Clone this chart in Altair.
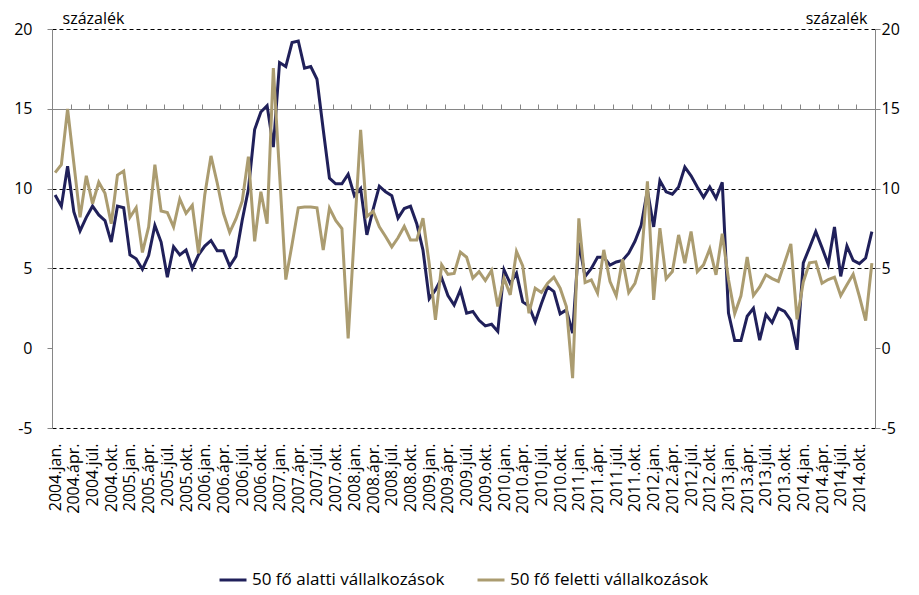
import json
import altair as alt
import pandas as pd

# ---- data ----
years = list(range(2004, 2015))
quarter_months = ["jan.", "ápr.", "júl.", "okt."]
series_names = ["50 fő alatti vállalkozások", "50 fő feletti vállalkozások"]
colors = ["#20205A", "#AB9C70"]
y_ticks = [-5, 0, 5, 10, 15, 20]

small = [
    9.6, 8.9, 11.4, 8.55, 7.35, 8.2, 8.9, 8.35, 8.0, 6.65, 8.9, 8.8,
    5.85, 5.6, 4.95, 5.8, 7.7, 6.65, 4.45, 6.35, 5.85, 6.15, 5.0, 5.85,
    6.4, 6.75, 6.1, 6.1, 5.15, 5.75, 8.0, 9.95, 13.7, 14.8, 15.2, 12.6,
    17.9, 17.65, 19.15, 19.25, 17.55, 17.65, 16.85, 13.7, 10.65, 10.3, 10.3, 10.9,
    9.55, 10.0, 7.1, 8.7, 10.15, 9.8, 9.55, 8.15, 8.75, 8.9, 7.8, 6.15,
    3.1, 3.65, 4.4, 3.3, 2.7, 3.65, 2.2, 2.3, 1.75, 1.4, 1.5, 1.05,
    4.9, 4.05, 4.7, 2.9, 2.65, 1.65, 2.8, 3.85, 3.55, 2.15, 2.4, 0.95,
    6.6, 4.5, 5.0, 5.7, 5.7, 5.2, 5.4, 5.5, 5.95, 6.7, 7.7, 9.9,
    7.6, 10.5, 9.8, 9.65, 10.1, 11.35, 10.8, 10.1, 9.45, 10.1, 9.4, 10.4,
    2.2, 0.48, 0.48, 2.0, 2.5, 0.5, 2.1, 1.6, 2.5, 2.3, 1.75, -0.1,
    5.35, 6.3, 7.3, 6.3, 5.25, 7.6, 4.5, 6.4, 5.5, 5.3, 5.65, 7.3,
]
large = [
    11.0, 11.5, 15.0, 11.6, 8.2, 10.8, 9.05, 10.4, 9.7, 7.8, 10.85, 11.1,
    8.2, 8.8, 6.0, 7.6, 11.5, 8.6, 8.5, 7.6, 9.35, 8.45, 8.95, 5.95,
    9.6, 12.05, 10.35, 8.45, 7.25, 8.1, 9.2, 12.0, 6.7, 9.8, 7.8, 17.55,
    10.9, 4.3, 6.5, 8.8, 8.85, 8.85, 8.8, 6.15, 8.78, 8.0, 7.5, 0.62,
    7.2, 13.68, 8.25, 8.58, 7.6, 7.0, 6.35, 6.92, 7.63, 6.78, 6.78, 8.14,
    5.3, 1.78, 5.22, 4.63, 4.68, 6.02, 5.7, 4.39, 4.8, 4.24, 4.87, 2.61,
    4.39, 3.34, 6.06, 5.16, 2.19, 3.76, 3.49, 4.07, 4.45, 3.76, 2.61, -1.88,
    8.14, 4.11, 4.28, 3.45, 6.16, 4.18, 3.28, 5.58, 3.49, 4.07, 5.43, 10.45,
    3.03, 7.52, 4.35, 4.8, 7.1, 5.33, 7.31, 4.8, 5.22, 6.23, 4.6, 7.17,
    4.3, 2.17, 3.28, 5.71, 3.3, 3.84, 4.6, 4.36, 4.18, 5.35, 6.53, 1.8,
    4.15, 5.35, 5.41, 4.07, 4.3, 4.45, 3.29, 3.97, 4.63, 3.24, 1.73, 5.33,
]

quarter_labels = [f"{y}.{m}" for y in years for m in quarter_months]
n = len(small)

df = pd.DataFrame({
    "idx": [i + 0.5 for i in range(n)] * 2,
    "value": small + large,
    "series": [series_names[0]] * n + [series_names[1]] * n,
})

FONT = "Open Sans"
FS = 16
W, H = 823, 399
y_per_unit = H / 25.0
zero_offset = -round(5 * y_per_unit)

x_scale = alt.Scale(domain=[0, n], nice=False, zero=False)
y_scale = alt.Scale(domain=[-5, 20], nice=False, zero=False)
color = alt.Color(
    "series:N",
    scale=alt.Scale(domain=series_names, range=colors),
    legend=alt.Legend(
        title=None, orient="none", direction="horizontal",
        legendX=166, legendY=536, symbolType="stroke", symbolSize=729,
        symbolStrokeWidth=3, labelFontSize=17, labelFont=FONT,
        labelColor="#000000", columnPadding=26, labelOffset=4, padding=0,
        labelLimit=400,
    ),
)

label_expr = "%s[floor(datum.value / 3)]" % json.dumps(quarter_labels, ensure_ascii=False)

x_label_axis = alt.Axis(
    values=[3 * k + 0.5 for k in range(len(quarter_labels))],
    labelExpr=label_expr, labelAngle=270, labelAlign="right",
    labelBaseline="middle", ticks=False, domain=False, grid=False,
    labelPadding=15, labelFontSize=FS, labelFont=FONT, labelColor="#000000",
    labelOverlap=False, labelBound=False, labelFlush=False, title=None,
)
x_tick_axis = alt.Axis(
    values=[3 * k for k in range(n // 3 + 1)], labels=False, ticks=True,
    tickSize=5, tickColor="#868686", domain=True, domainColor="#868686",
    offset=zero_offset, grid=False, title=None,
)

y_left = alt.Axis(
    values=y_ticks, grid=True, gridDash=[4, 3], gridColor="#000000",
    gridWidth=1,
    gridOpacity={"condition": {"test": "datum.value === 0", "value": 0}, "value": 1},
    tickSize=5, tickColor="#868686", domainColor="#868686", labelPadding=15,
    labelExpr="'' + datum.value",
    labelFontSize=FS, labelFont=FONT, labelColor="#000000",
    title="százalék", titleAngle=0, titleAlign="left", titleBaseline="alphabetic",
    titleX=10, titleY=-6, titleFontSize=16, titleFont=FONT,
    titleFontWeight="normal", titleColor="#000000",
)
y_right = alt.Axis(
    values=y_ticks, orient="right", grid=False, tickSize=5,
    tickColor="#868686", domainColor="#868686", labelPadding=1,
    labelExpr="'' + datum.value",
    labelFontSize=FS, labelFont=FONT, labelColor="#000000",
    title="százalék", titleAngle=0, titleAlign="right", titleBaseline="alphabetic",
    titleX=-8, titleY=-6, titleFontSize=16, titleFont=FONT,
    titleFontWeight="normal", titleColor="#000000",
)

base = alt.Chart(df)

small_line = base.transform_filter(
    alt.datum.series == series_names[0]
).mark_line(strokeWidth=3).encode(
    x=alt.X("idx:Q", scale=x_scale, axis=x_label_axis),
    y=alt.Y("value:Q", scale=y_scale, axis=y_left),
    color=color,
)
large_line = base.transform_filter(
    alt.datum.series == series_names[1]
).mark_line(strokeWidth=3).encode(
    x=alt.X("idx:Q", scale=x_scale, axis=x_tick_axis),
    y=alt.Y("value:Q", scale=y_scale, axis=y_right),
    color=color,
)

chart = alt.layer(small_line, large_line).resolve_axis(
    x="independent", y="independent"
).properties(
    width=W, height=H,
    autosize=alt.AutoSizeParams(type="none"),
    padding={"left": 44, "top": 21, "right": 36, "bottom": 165},
    background="#ffffff",
).configure_view(stroke=None)

chart.save("out.html", embed_options={"renderer": "svg", "actions": False})
